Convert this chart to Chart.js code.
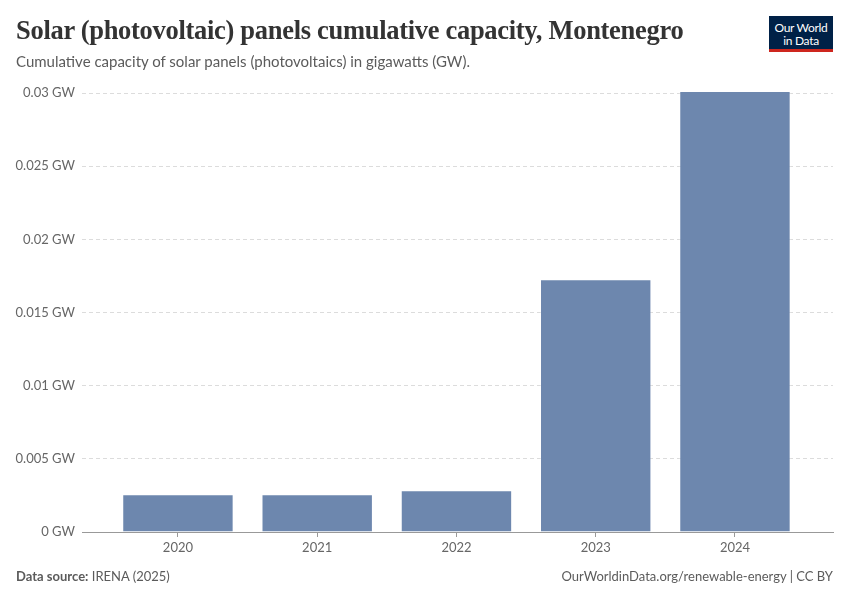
<!DOCTYPE html>
<html>
<head>
<meta charset="utf-8">
<script src="https://cdn.jsdelivr.net/npm/chart.js@4"></script>
<style>
  html, body { margin: 0; padding: 0; background: #fff; }
  #wrap { position: relative; width: 850px; height: 600px; overflow: hidden; font-family: Lato, "Open Sans", sans-serif; }
  #title { position: absolute; left: 16px; top: 15px; font-family: "Liberation Serif", "DejaVu Serif", serif; font-weight: bold; font-size: 26.5px; color: #333; letter-spacing: -0.3px; white-space: nowrap; }
  #subtitle { position: absolute; left: 16px; top: 52px; font-size: 15px; color: #5b5b5b; white-space: nowrap; }
  #logo { position: absolute; left: 769px; top: 16px; width: 64px; height: 36px; background: #002147; color: #fff; font-size: 12px; line-height: 13px; text-align: center; box-sizing: border-box; padding-top: 5px; border-bottom: 3px solid #ce261e; letter-spacing: -0.3px; }
  #src { position: absolute; left: 16px; top: 568px; font-size: 13px; color: #5b5b5b; white-space: nowrap; }
  #src b { font-weight: bold; color: #5b5b5b; }
  #url { position: absolute; right: 17px; top: 568px; font-size: 13px; color: #5b5b5b; white-space: nowrap; }
  #c { position: absolute; left: 0; top: 0; }
</style>
</head>
<body>
<div id="wrap">
  <canvas id="c" width="850" height="600"></canvas>
  <div id="title">Solar (photovoltaic) panels cumulative capacity, Montenegro</div>
  <div id="subtitle">Cumulative capacity of solar panels (photovoltaics) in gigawatts (GW).</div>
  <div id="logo">Our World<br>in Data</div>
  <div id="src"><b>Data source:</b> IRENA (2025)</div>
  <div id="url">OurWorldinData.org/renewable-energy | CC BY</div>
</div>
<script>
const years = ["2020", "2021", "2022", "2023", "2024"];
const capacityGW = [0.00258, 0.00258, 0.00285, 0.01727, 0.03014];
const yTicks = [0, 0.005, 0.01, 0.015, 0.02, 0.025, 0.03];
const yTickLabels = ["0 GW", "0.005 GW", "0.01 GW", "0.015 GW", "0.02 GW", "0.025 GW", "0.03 GW"];

const points = years.map((y, i) => ({ x: i, y: capacityGW[i] }));

new Chart(document.getElementById('c'), {
  type: 'bar',
  data: {
    datasets: [{
      data: points,
      backgroundColor: '#6d87ae',
      borderColor: 'rgba(255,255,255,0.35)',
      borderWidth: 1,
      barPercentage: 0.8,
      categoryPercentage: 1.0,
      clip: false
    }]
  },
  options: {
    responsive: false,
    animation: false,
    devicePixelRatio: 1,
    layout: { padding: { left: 0, right: 17, top: 93, bottom: 38 } },
    plugins: { legend: { display: false }, tooltip: { enabled: false } },
    scales: {
      x: {
        type: 'linear',
        offset: false,
        min: -0.689,
        max: 4.704,
        afterFit: s => { s.height = 30; },
        afterBuildTicks: s => { s.ticks = years.map((y, i) => ({ value: i })); },
        ticks: {
          stepSize: 1,
          includeBounds: false,
          color: '#666',
          font: { family: 'Lato', size: 13 },
          padding: 3,
          maxRotation: 0,
          callback: v => years[v] ?? ''
        },
        grid: { offset: false, drawOnChartArea: false, drawTicks: true, tickLength: 5, color: '#999' },
        border: { display: true, color: '#999', width: 1 }
      },
      y: {
        min: 0,
        max: 0.03,
        afterFit: s => { s.width = 82; },
        afterBuildTicks: s => { s.ticks = yTicks.map(v => ({ value: v })); },
        ticks: {
          color: '#666',
          font: { family: 'Lato', size: 13 },
          padding: 7,
          callback: (v) => { const i = yTicks.findIndex(t => Math.abs(t - v) < 1e-9); return i >= 0 ? yTickLabels[i] : ''; }
        },
        grid: { drawTicks: false, color: '#dcdcdc', lineWidth: 1 },
        border: { display: false, dash: [4, 3] }
      }
    }
  }
});
</script>
</body>
</html>
